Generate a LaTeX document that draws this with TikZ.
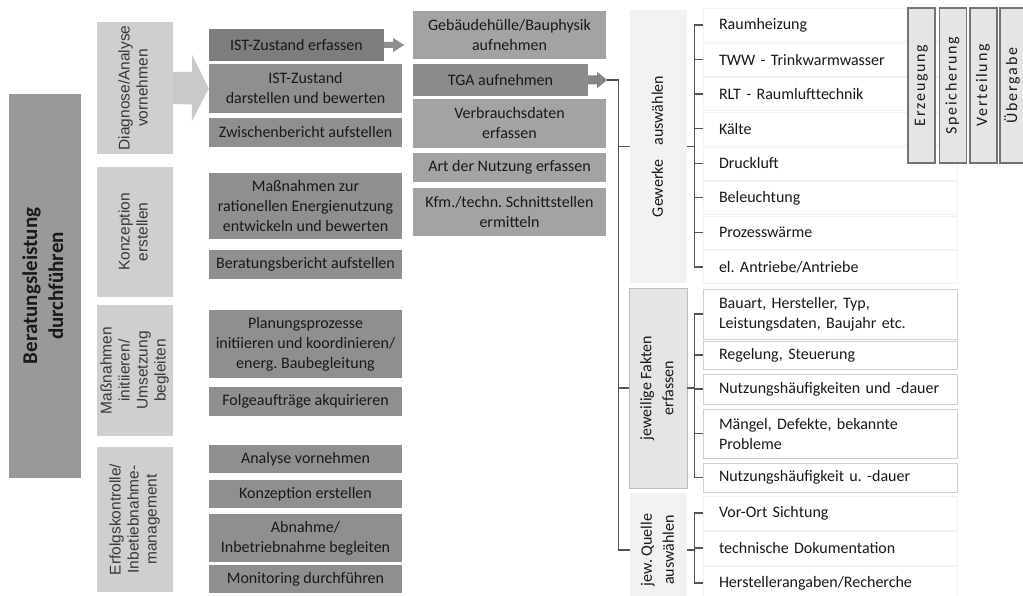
\documentclass[tikz,border=0pt]{standalone}
\usepackage{fontspec}
\usepackage{graphicx}
\setmainfont{Carlito}
\newfontfamily\arialfont{Liberation Sans}
\newfontfamily\spacedfont[LetterSpace=11]{Carlito}
\usetikzlibrary{positioning,calc}
\definecolor{beraFill}  {gray}{0.60}
\definecolor{phaseFill} {gray}{0.81}
\definecolor{taskFill}  {gray}{0.56}
\definecolor{taskDark}  {gray}{0.49}
\definecolor{recordFill}{gray}{0.64}
\definecolor{recordDark}{gray}{0.55}
\definecolor{catLight}  {gray}{0.95}
\definecolor{catMid}    {gray}{0.90}
\definecolor{catLine}   {gray}{0.74}
\definecolor{itemLine}  {gray}{0.82}
\definecolor{itemFaint} {gray}{0.95}
\definecolor{sideFill}  {gray}{0.90}
\definecolor{sideLine}  {gray}{0.45}
\definecolor{arrowLight}{gray}{0.79}
\definecolor{arrowMid}  {gray}{0.56}
\definecolor{linkGray}  {gray}{0.33}
\definecolor{textDark}  {gray}{0.10}
\definecolor{textMid}   {gray}{0.22}
\newcommand{\vtext}[1]{\rotatebox{90}{\begin{tabular}{@{}c@{}}#1\end{tabular}}}
\frenchspacing

\begin{document}
\begin{tikzpicture}[x=1pt, y=-1pt,
      bera/.style={fill=beraFill, minimum width=72pt, minimum height=384pt, inner sep=0pt,
                   font=\fontsize{21}{26}\selectfont\bfseries, text=textDark},
      phase/.style={fill=phaseFill, minimum width=76pt, inner sep=0pt,
                    font=\arialfont\fontsize{15.5}{18}\selectfont, text=textMid},
      task/.style={fill=taskFill, minimum width=193pt, inner xsep=2pt, align=center,
                   font=\fontsize{16}{20}\selectfont, text=textDark},
      record/.style={task, fill=recordFill},
      cat/.style={minimum width=57pt, inner sep=0pt, font=\fontsize{16}{22}\selectfont, text=textDark},
      item/.style={draw=itemLine, fill=white, minimum width=254pt, text width=222pt,
                   inner xsep=16pt, inner ysep=0pt, align=left,
                   font=\fontsize{16}{20}\selectfont, text=textDark},
      faint/.style={item, draw=itemFaint},
      side/.style={fill=sideFill, draw=sideLine, line width=1.1pt, minimum width=27pt,
                   minimum height=155pt, inner sep=0pt,
                   font=\spacedfont\fontsize{16}{18}\selectfont, text=textDark},
      link/.style={draw=linkGray, line width=1.2pt}]
    \useasboundingbox (0,0) rectangle (1023,596);

    % main task and phases
    \node[bera] (bera) at (45,286) {\vtext{Beratungsleistung\\durchführen}};
    \node[phase, minimum height=132pt] (diag)   at (135,88)    {\vtext{Diagnose/Analyse\\vornehmen}};
    \node[phase, minimum height=130pt] (konz)   at (135,232)   {\vtext{Konzeption\\erstellen}};
    \node[phase, minimum height=131pt] (umset)  at (135,370.5) {\vtext{Maßnahmen\\initiieren/\\Umsetzung\\begleiten}};
    \node[phase, minimum height=145pt] (erfolg) at (135,519.5) {\vtext{Erfolgskontrolle/\\Inbetiebnahme-\\management}};

    % activities per phase
    \node[task, fill=taskDark, minimum width=175pt, minimum height=32pt] (isterf) at (296.5,45) {IST-Zustand erfassen};
    \node[task, minimum height=49pt] (istdar)   at (305.5,88.5)  {IST-Zustand\\darstellen und bewerten};
    \node[task, minimum height=29pt] (zwber)    at (305.5,132.5) {Zwischenbericht aufstellen};
    \node[task, minimum height=66pt] (massn)    at (305.5,206)   {Maßnahmen zur\\rationellen Energienutzung\\entwickeln und bewerten};
    \node[task, minimum height=29pt] (berber)   at (305.5,264.5) {Beratungsbericht aufstellen};
    \node[task, minimum height=68pt] (plan)     at (305.5,344)   {Planungsprozesse\\initiieren und koordinieren/\\energ. Baubegleitung};
    \node[task, minimum height=29pt] (folge)    at (305.5,401.5) {Folgeaufträge akquirieren};
    \node[task, minimum height=28pt] (analy)    at (305.5,459)   {Analyse vornehmen};
    \node[task, minimum height=28pt] (konzerst) at (305.5,494)   {Konzeption erstellen};
    \node[task, minimum height=48pt] (abn)      at (305.5,538)   {Abnahme/\\Inbetriebnahme begleiten};
    \node[task, minimum height=28pt] (monit)    at (305.5,579)   {Monitoring durchführen};

    % survey of the current state
    \node[record, minimum height=48pt] (gebh)  at (509.5,35)    {Gebäudehülle/Bauphysik\\aufnehmen};
    \node[record, fill=recordDark, minimum width=175pt, minimum height=32pt] (tga) at (500.5,80) {TGA aufnehmen};
    \node[record, minimum height=49pt] (verbr) at (509.5,123.5) {Verbrauchsdaten\\erfassen};
    \node[record, minimum height=29pt] (nutz)  at (509.5,167.5) {Art der Nutzung erfassen};
    \node[record, minimum height=48pt] (kfm)   at (509.5,212)   {Kfm./techn. Schnittstellen\\ermitteln};

    % block arrows
    \fill[arrowLight] ($(diag.east)+(0,-16)$) -- ++(19,0) -- ++(0,-17) -- (istdar.west)
      -- ($(istdar.west)+(-17,33)$) -- ($(istdar.west)+(-17,16)$) -- ($(diag.east)+(0,16)$) -- cycle;
    \fill[arrowMid] ($(isterf.east)+(0,-3)$) -- ++(9,0) -- ++(0,-4) -- ++(11,7)
      -- ++(-11,7) -- ++(0,-4) -- ++(-9,0) -- cycle;
    \fill[arrowMid!110] ($(tga.east)+(0,-4.5)$) -- ++(9,0) -- ++(0,-3.5) -- ++(10,8)
      -- ++(-10,8) -- ++(0,-3.5) -- ++(-9,0) -- cycle;
    \coordinate (tgaTip) at ($(tga.east)+(19,0)$);
    \coordinate (trunk) at ($(tgaTip)+(11,0)$);

    % categories
    \node[cat, fill=catLight, minimum height=273pt] (gewerke) at (658.5,146.5) {\vtext{Gewerke\hspace{14pt}auswählen}};
    \node[cat, fill=catMid, draw=catLine, minimum width=58pt, minimum height=200pt] (fakten) at (658,388) {\vtext{jeweilige Fakten\\erfassen}};
    \node[cat, fill=catLight, minimum height=114pt] (quelle) at (658.5,550) {\vtext{jew. Quelle\\auswählen}};

    \draw[link] (tgaTip) -- (trunk) |- (quelle.west);
    \draw[link] (trunk |- gewerke.west) -- (gewerke.west);
    \draw[link] (trunk |- fakten.west) -- (fakten.west);

    % trades
    \node[faint, minimum height=33pt] (g1) at (830,25)    {Raumheizung};
    \node[faint, minimum height=33pt] (g2) at (830,59.6)  {TWW - Trinkwarmwasser};
    \node[faint, minimum height=33pt] (g3) at (830,94.1)  {RLT - Raumlufttechnik};
    \node[faint, minimum height=33pt] (g4) at (830,128.7) {Kälte};
    \node[faint, minimum height=33pt] (g5) at (830,163.3) {Druckluft};
    \node[faint, minimum height=33pt] (g6) at (830,197.9) {Beleuchtung};
    \node[faint, minimum height=33pt] (g7) at (830,232.4) {Prozesswärme};
    \node[faint, minimum height=33pt] (g8) at (830,267)   {el. Antriebe/Antriebe};

    % facts
    \node[item, minimum height=50pt] (f1) at (830,314)   {Bauart, Hersteller, Typ,\\Leistungsdaten, Baujahr etc.};
    \node[item, minimum height=28pt] (f2) at (830,355)   {Regelung, Steuerung};
    \node[item, minimum height=30pt] (f3) at (830,389)   {Nutzungshäufigkeiten und -dauer};
    \node[item, minimum height=49pt] (f4) at (830,433.5) {Mängel, Defekte, bekannte\\Probleme};
    \node[item, minimum height=29pt] (f5) at (830,477.5) {Nutzungshäufigkeit u. -dauer};

    % sources
    \node[faint, minimum height=34pt] (q1) at (830,513) {Vor-Ort Sichtung};
    \node[faint, minimum height=34pt] (q2) at (830,548) {technische Dokumentation};
    \node[faint, minimum height=34pt] (q3) at (830,583) {Herstellerangaben/Recherche};

    % brackets
    \draw[link] (g1.west) -- ++(-8,0) |- (g8.west);
    \foreach \g in {g2,g3,g4,g5,g6,g7}
      \draw[link] (\g.west) -- ++(-8,0);
    \draw[link] (gewerke.east) -- ++(8,0);
    \draw[link] (f1.west) -- ++(-8,0) |- (f5.west);
    \foreach \f in {f2,f3,f4}
      \draw[link] (\f.west) -- ++(-8,0);
    \draw[link] (fakten.east) -- ++(8,0);
    \draw[link] (q1.west) -- ++(-8,0) |- (q3.west);
    \draw[link] (q2.west) -- ++(-8,0);
    \draw[link] (quelle.east) -- ++(8,0);

    % stages of the technical systems
    \node[side] (erz)  at (921.5,85.5)  {\vtext{Erzeugung}};
    \node[side] (spei) at (953,85.5)    {\vtext{Speicherung}};
    \node[side] (vert) at (983.5,85.5)  {\vtext{Verteilung}};
    \node[side] (uebg) at (1013.5,85.5) {\vtext{Übergabe}};
  \end{tikzpicture}
\end{document}
